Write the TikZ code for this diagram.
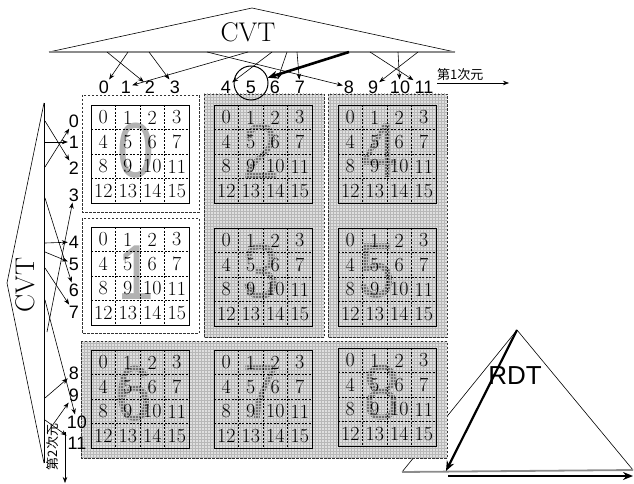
\documentclass[tikz,border=0pt]{standalone}
\usepackage{fontspec}
\setsansfont{Liberation Sans}
\newfontfamily\cjk{Noto Sans CJK JP}
\usetikzlibrary{arrows.meta,patterns}

\tikzset{
  idx/.style={font=\sffamily\fontsize{18}{18}\selectfont, inner sep=1pt},
  cjklab/.style={font=\cjk\fontsize{13}{13}\selectfont, inner sep=0pt},
  bigtitle/.style={font=\fontsize{27}{27}\selectfont, inner sep=1pt},
  rdtlab/.style={font=\sffamily\fontsize{26}{26}\selectfont, inner sep=1pt},
  cellnum/.style={font=\fontsize{20}{20}\selectfont, inner sep=0pt},
  bigdig/.style={font=\sffamily\fontsize{78}{78}\selectfont, xscale=0.85, inner sep=0pt},
  cellsep/.style={line width=0.7pt, dash pattern=on 2pt off 1.5pt},
  gridframe/.style={line width=0.9pt},
  blockline/.style={line width=0.8pt, dash pattern=on 2.5pt off 1.5pt, black!80},
  baseln/.style={line width=1.8pt, black!45},
  arr/.style={-{Stealth[length=6pt,width=4.5pt]}, line width=0.6pt},
  thickarr/.style={-{Stealth[length=10pt,width=8pt]}, line width=2.6pt},
  shadefill/.style={fill=black!12},
  shadepat/.style={pattern=grid, pattern color=black!28},
}

% #1 x0, #2 y0, #3 name
\newcommand\cellgrid[3]{%
  \foreach \kk in {1,2,3}{
    \draw[cellsep] (#1,#2+24.5*\kk) -- (#1+98,#2+24.5*\kk);
    \draw[cellsep] (#1+24.5*\kk,#2) -- (#1+24.5*\kk,#2+98);
  }
  \draw[gridframe] (#1,#2) rectangle (#1+98,#2+98);
  \foreach \rr in {0,...,3}{
    \foreach \cc in {0,...,3}{
      \pgfmathtruncatemacro\nn{4*\rr+\cc}
      \node[cellnum] (#3-\nn) at (#1+12.25+24.5*\cc,#2+12.5+24.5*\rr) {\nn};
    }
  }
}

\begin{document}
\begin{tikzpicture}[x=1pt,y=-1pt]
\useasboundingbox (0,0) rectangle (634,484);

% ---------- RDT triangle (behind the blocks)
\coordinate (rA) at (517,330);
\coordinate (rL) at (402,472);
\coordinate (rR) at (633,470);
\draw[line width=0.6pt] (rL) -- (rA) -- (rR);
\draw[baseln] (rL) -- (rR);
\node[rdtlab] (rdt) at (515,376) {RDT};

% ---------- top CVT
\coordinate (cA) at (252,8);
\coordinate (cL) at (49,52);
\coordinate (cR) at (455,52);
\draw[line width=0.6pt] (cL) -- (cA) -- (cR);
\draw[baseln] (cL) -- (cR);
\node[bigtitle] (cvt1) at (248,32) {CVT};

% ---------- left CVT
\coordinate (vA) at (7,283);
\coordinate (vT) at (44,103);
\coordinate (vB) at (44,463);
\draw[line width=0.6pt] (vT) -- (vA) -- (vB);
\draw[line width=0.9pt] (vT) -- (vB);
\node[bigtitle, rotate=90] (cvt2) at (25,285) {CVT};

% ---------- blocks
\draw[blockline, fill=white] (82,95) rectangle (199,212);
\draw[blockline, fill=white] (82,218) rectangle (199,333);
\fill[shadefill] (204,94) rectangle (324,337);
\fill[shadefill] (328,94) rectangle (447,337);
\fill[shadefill] (81,341) rectangle (447,458);

% big digits
\node[bigdig, text=black!30] (b0) at (136,151) {0};
\node[bigdig, text=black!30] (b1) at (136,273) {1};
\node[bigdig, text=black!55] (b2) at (261,151) {2};
\node[bigdig, text=black!55] (b3) at (261,272) {3};
\node[bigdig, text=black!55] (b4) at (380,151) {4};
\node[bigdig, text=black!55] (b5) at (377,271) {5};
\node[bigdig, text=black!55] (b6) at (134,394) {6};
\node[bigdig, text=black!55] (b7) at (261,393) {7};
\node[bigdig, text=black!55] (b8) at (382,393) {8};

\fill[shadepat] (204,94) rectangle (324,337);
\fill[shadepat] (328,94) rectangle (447,337);
\fill[shadepat] (81,341) rectangle (447,458);
\draw[blockline] (204,94) rectangle (324,337);
\draw[blockline] (328,94) rectangle (447,337);
\draw[blockline] (81,341) rectangle (447,458);

% grids
\cellgrid{91}{105}{g0}
\cellgrid{91}{227}{g1}
\cellgrid{214}{105}{g2}
\cellgrid{214}{228}{g3}
\cellgrid{338}{105}{g4}
\cellgrid{338}{228}{g5}
\cellgrid{91}{350}{g6}
\cellgrid{214}{350}{g7}
\cellgrid{338}{348}{g8}

% ---------- top index labels
\foreach \i/\x in {0/104,1/126,2/150,3/175,4/226,5/251,6/275,7/300,8/349,9/373,10/400,11/424}
  \node[idx] (t\i) at (\x,87) {\i};
\node[draw, circle, line width=1pt, minimum size=34pt, inner sep=0pt] (circ5) at (251,83) {};

\foreach \i/\x in {0/128,1/248,2/107,3/149,4/272,5/349,6/287,7/297,8/207,9/418,10/398,11/370}
  \coordinate (ta\i) at (\x,52);
\foreach \i in {0,1,2,3,4,6,7,8,9,10,11}
  \draw[arr] (ta\i) -- (t\i);
\draw[thickarr] (ta5) -- (circ5);

\node[cjklab, anchor=west] (dim1) at (437,75) {第1次元};
\coordinate (d1s) at (437,83);
\coordinate (d1e) at (509,83);
\draw[arr] (d1s) -- (d1e);

% ---------- left index labels
\foreach \i/\x/\y in {0/74/121,1/74/142,2/74/168,3/74/195,4/74/242,5/74/264,6/74/290,7/74/312,8/74/373,9/74/395,10/77/422,11/77/443}
  \node[idx] (s\i) at (\x,\y) {\i};
\foreach \i/\x/\y in {0/45/167,1/45/142,2/45/121,3/47/332,4/45/243,5/45/252,6/45/198,7/45/268,8/45/398,9/47/433,10/45/300,11/45/420}
  \coordinate (la\i) at (\x,\y);
\foreach \i in {0,...,11}
  \draw[arr] (la\i) -- (s\i);

\node[cjklab, rotate=90] (dim2) at (53,447) {第2次元};
\coordinate (d2s) at (65,432);
\coordinate (d2e) at (65,483);
\draw[arr] (d2s) -- (d2e);

% ---------- RDT arrows
\coordinate (rEnd) at (446,471);
\draw[thickarr, line width=2.2pt] (rA) -- (rEnd);
\coordinate (rb1) at (448,476);
\coordinate (rb2) at (633,476);
\draw[thickarr, line width=2.2pt] (rb1) -- (rb2);
\end{tikzpicture}
\end{document}
